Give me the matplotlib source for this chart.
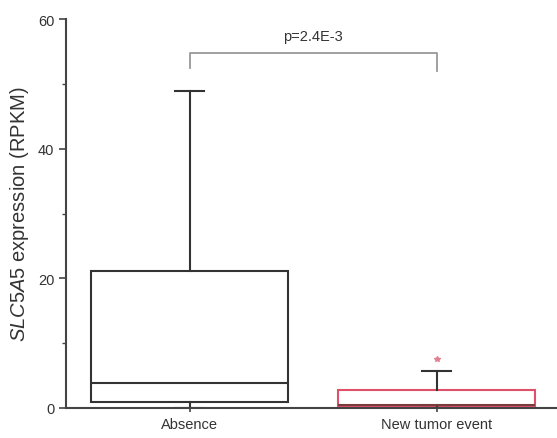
import matplotlib
matplotlib.use("Agg")
import matplotlib.pyplot as plt
from matplotlib.ticker import MultipleLocator

plt.rcParams["font.family"] = ["Liberation Sans", "DejaVu Sans"]
plt.rcParams["mathtext.fontset"] = "custom"
plt.rcParams["mathtext.it"] = "Liberation Sans:italic"
plt.rcParams["mathtext.rm"] = "Liberation Sans"

# group names and box statistics
groups = ["Absence", "New tumor event"]
q1 = [1.0, 0.2]
med = [3.8, 0.5]
q3 = [21.2, 2.7]
lo_whisk = [0.0, 0.0]
hi_whisk = [48.9, 5.7]
outliers = [[], [7.6]]
edge_colors = ["#333333", "#e0506a"]
median_colors = ["#333333", "#7a3b3f"]
p_text = "p=2.4E-3"

fig = plt.figure(figsize=(5.57, 4.39), dpi=100)
ax = fig.add_axes([66 / 557, 30 / 439, 494 / 557, 389 / 439])

stats = []
for i in range(len(groups)):
    stats.append(dict(label=groups[i], q1=q1[i], med=med[i], q3=q3[i],
                      whislo=lo_whisk[i], whishi=hi_whisk[i], fliers=outliers[i]))

bp = ax.bxp(stats, positions=[1, 2], widths=0.8, patch_artist=True,
            showcaps=True, capwidths=0.12,
            flierprops=dict(marker="*", markersize=4, markerfacecolor="#e08090",
                            markeredgecolor="#e08090", linestyle="none"),
            medianprops=dict(linewidth=1.5),
            whiskerprops=dict(color="#333333", linewidth=1.5),
            capprops=dict(color="#333333", linewidth=1.5))
for box, c in zip(bp["boxes"], edge_colors):
    box.set_facecolor("white")
    box.set_edgecolor(c)
    box.set_linewidth(1.5)
for m, c in zip(bp["medians"], median_colors):
    m.set_color(c)

ax.set_xlim(0.5, 2.5)
ax.set_ylim(0, 60)
ax.yaxis.set_major_locator(MultipleLocator(20))
ax.yaxis.set_minor_locator(MultipleLocator(10))
ax.spines["top"].set_visible(False)
ax.spines["right"].set_visible(False)
for s in ["left", "bottom"]:
    ax.spines[s].set_color("#444444")
    ax.spines[s].set_linewidth(1.5)
ax.tick_params(axis="y", direction="out", length=5, width=1.2, colors="#444444", labelsize=10.5)
ax.tick_params(axis="y", which="minor", direction="out", length=3, width=1.0, colors="#444444")
ax.tick_params(axis="x", direction="inout", length=6, width=1.2, colors="#444444", labelsize=10.5)
for lab in ax.get_xticklabels() + ax.get_yticklabels():
    lab.set_color("#333333")

ax.set_ylabel(r"$\it{SLC5A5}$ expression (RPKM)", fontsize=14.5, color="#333333", labelpad=5)

# significance bracket
ax.plot([1, 1, 2, 2], [52.5, 54.8, 54.8, 52.0], color="#999999", linewidth=1.3, clip_on=False)
ax.text(1.5, 56.3, p_text, ha="center", va="bottom", fontsize=10.5, color="#333333")

fig.savefig("out.png", dpi=100)
